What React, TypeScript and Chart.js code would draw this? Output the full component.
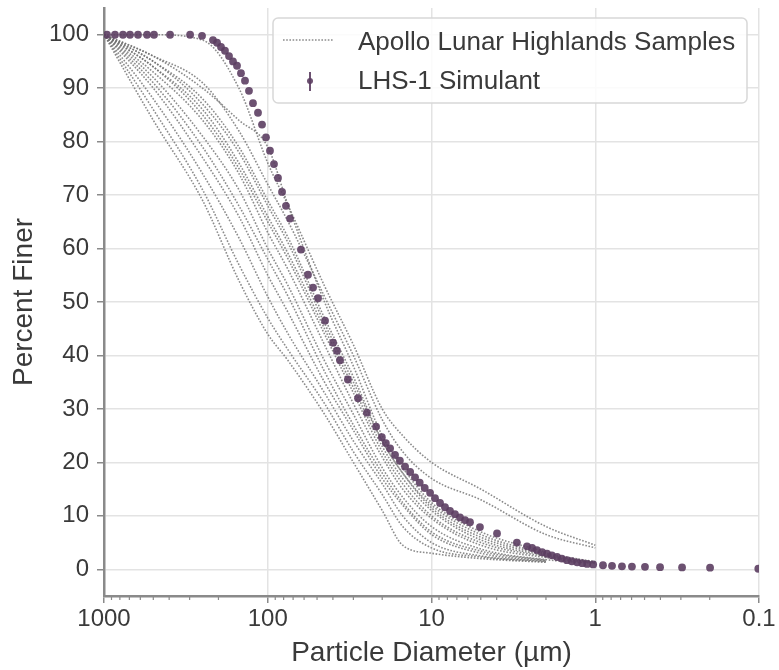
import React, { useEffect, useRef } from 'react';
import { Chart, registerables } from 'chart.js';

Chart.register(...registerables);

const FONT = '"Liberation Sans", Arial, Helvetica, sans-serif';

// Axis ticks
const X_TICKS = [1000, 100, 10, 1, 0.1];
const Y_TICKS = [0, 10, 20, 30, 40, 50, 60, 70, 80, 90, 100];
const X_MINOR_DECADES = [0.1, 1, 10, 100];

// Apollo samples: percent finer at shared particle diameters (µm)
const APOLLO_DIAM = [1000, 500, 250, 150, 100, 75, 45, 30, 20, 15, 10, 5, 2, 1];
const APOLLO_1 = [100, 84, 69, 54, 44, 39, 29, 20, 11, 4.5, 3, 2, 1.3, null];
const APOLLO_2 = [100, 86, 71, 57, 47, 41, 31, 22, 14, 8, 4, 2.3, 1.4, null];
const APOLLO_3 = [100, 90, 77, 66, 55, 48, 35, 26, 17, 12, 6.5, 3, 1.6, null];
const APOLLO_4 = [100, 92, 81, 71, 60, 53, 39, 29, 19, 13.5, 8, 3.8, 1.8, 1.1];
const APOLLO_5 = [100, 93, 84, 74, 63, 56, 42, 31, 21, 15, 9.5, 4.5, 2.2, 1.2];
const APOLLO_6 = [100, 94, 86, 76, 66, 59, 45, 34, 23, 17, 11, 5.5, 2.6, 1.3];
const APOLLO_7 = [100, 95, 88, 79, 69, 62, 47, 36, 24, 18, 12, 6.5, 3, 1.4];
const APOLLO_8 = [100, 96, 90, 84, 79, 68, 50, 38, 25, 19, 12.5, 7, 3.2, null];
const APOLLO_9 = [100, 100, 99, 90, 76, 68, 53, 42, 30, 25, 20, 15, 8, 4.5];
const APOLLO_10 = [100, 96, 91, 82, 72, 65, 51, 40, 28, 22, 17, 13, 6.5, 4];
const APOLLO_11 = [100, 91, 79, 68, 58, 51, 37, 27, 18, 12.5, 7, 3.4, 1.7, null];
const APOLLO_12 = [100, 94, 85, 75, 65, 58, 44, 33, 22, 16, 10, 5, 2.4, 1.2];
const APOLLO_13 = [100, 95, 87, 78, 68, 61, 46, 35, 24, 18, 11.5, 6, 2.8, 1.3];
const APOLLO_14 = [100, 88, 74, 62, 51, 44, 33, 24, 16, 10, 5, 2.5, 1.5, null];

const APOLLO_SERIES = [
  APOLLO_1, APOLLO_2, APOLLO_3, APOLLO_4, APOLLO_5, APOLLO_6, APOLLO_7,
  APOLLO_8, APOLLO_9, APOLLO_10, APOLLO_11, APOLLO_12, APOLLO_13, APOLLO_14,
];

// LHS-1 simulant
const LHS1_DIAM = [
  959, 857, 766, 694, 620, 546, 495, 395, 298, 252,
  216, 204, 193, 182.5, 172.4, 163, 154.1, 145.7, 137.7, 130.2, 123.1,
  114.7, 108.4, 102.5, 96.9, 91.6, 86.6, 81.8, 77.4, 73.1,
  62.7, 56.8, 52.9, 49.3, 44.7, 39.9, 37.8, 36.2, 32.4, 28.1, 24.8, 21.8, 20.1,
  19.0, 17.9, 16.7, 15.6, 14.5, 13.5, 12.6, 11.8, 11.0, 10.2, 9.52, 8.87, 8.27,
  7.71, 7.19, 6.70, 6.24, 5.82,
  5.06, 3.98, 3.01, 2.61,
  2.43, 2.27, 2.11, 1.97, 1.84, 1.71, 1.60, 1.49, 1.39, 1.29, 1.20, 1.12, 1.03,
  0.897, 0.790, 0.687, 0.597, 0.497, 0.402, 0.295, 0.199, 0.101,
];
const LHS1_PCT = [
  100, 100, 100, 100, 100, 100, 100, 100, 100, 99.8,
  99, 98.5, 97.7, 97, 96, 95, 94.2, 92.8, 91.4, 89.5, 87.2,
  85.4, 83.2, 80.8, 78.3, 75.8, 73.2, 70.6, 68, 65.6,
  59.8, 55.1, 52.7, 50.7, 46.5, 42.4, 40.9, 39.1, 35.5, 32.0, 29.3, 26.7, 24.7,
  23.6, 22.6, 21.4, 20.3, 19.2, 18.2, 17.2, 16.2, 15.2, 14.3, 13.3, 12.4, 11.6,
  10.9, 10.3, 9.7, 9.2, 8.8,
  7.9, 6.7, 5.0, 4.3,
  4.0, 3.6, 3.2, 2.9, 2.6, 2.3, 2.0, 1.7, 1.5, 1.3, 1.15, 1.0, 0.9,
  0.75, 0.65, 0.55, 0.5, 0.45, 0.4, 0.35, 0.3, 0.1,
];

const GREY = 'rgba(110,110,110,0.8)';
const PURPLE = 'rgba(92,62,98,0.9)';
const AXIS = '#8a8a8a';
const GRID = '#e3e3e3';
const TEXT = '#3a3a3a';

const extrasPlugin = {
  id: 'extras',
  afterDraw(chart: any) {
    const ctx = chart.ctx;
    const xs = chart.scales.x;
    const area = chart.chartArea;
    // minor ticks on x axis
    ctx.save();
    ctx.strokeStyle = AXIS;
    ctx.lineWidth = 1.2;
    for (const d of X_MINOR_DECADES) {
      for (let k = 2; k <= 9; k++) {
        const px = xs.getPixelForValue(d * k);
        ctx.beginPath();
        ctx.moveTo(px, area.bottom);
        ctx.lineTo(px, area.bottom + 4);
        ctx.stroke();
      }
    }
    ctx.restore();

    // legend
    const lx = 273, ly = 18, lw = 474, lh = 85;
    ctx.save();
    ctx.beginPath();
    ctx.roundRect(lx, ly, lw, lh, 5);
    ctx.fillStyle = 'rgba(255,255,255,0.85)';
    ctx.fill();
    ctx.strokeStyle = '#d8d8d8';
    ctx.lineWidth = 1.5;
    ctx.stroke();

    // entry 1: dotted grey line
    ctx.beginPath();
    ctx.setLineDash([1.6, 1.6]);
    ctx.strokeStyle = GREY;
    ctx.lineWidth = 1.6;
    ctx.moveTo(283, 40);
    ctx.lineTo(333, 40);
    ctx.stroke();
    ctx.setLineDash([]);

    // entry 2: error bar marker
    ctx.beginPath();
    ctx.strokeStyle = PURPLE;
    ctx.lineWidth = 2;
    ctx.moveTo(310, 72);
    ctx.lineTo(310, 91);
    ctx.stroke();
    ctx.beginPath();
    ctx.fillStyle = PURPLE;
    ctx.arc(310, 81, 3, 0, Math.PI * 2);
    ctx.fill();

    ctx.fillStyle = TEXT;
    ctx.font = `26px ${FONT}`;
    ctx.textAlign = 'left';
    ctx.textBaseline = 'alphabetic';
    ctx.fillText('Apollo Lunar Highlands Samples', 358, 50);
    ctx.fillText('LHS-1 Simulant', 358, 89);
    ctx.restore();
  },
};

export default function App() {
  const ref = useRef<HTMLCanvasElement | null>(null);

  useEffect(() => {
    if (!ref.current) return;
    const greyDatasets = APOLLO_SERIES.map((series, idx) => ({
      label: idx === 0 ? 'Apollo Lunar Highlands Samples' : `Apollo ${idx + 1}`,
      data: APOLLO_DIAM.map((d, i) => ({ x: d, y: series[i] })).filter((p) => p.y !== null),
      showLine: true,
      borderColor: GREY,
      borderWidth: 1.6,
      borderDash: [1.6, 1.6],
      pointRadius: 0,
      cubicInterpolationMode: 'monotone' as const,
      fill: false,
    }));
    const chart = new Chart(ref.current, {
      type: 'scatter',
      data: {
        datasets: [
          {
            label: 'LHS-1 Simulant',
            data: LHS1_DIAM.map((d, i) => ({ x: d, y: LHS1_PCT[i] })),
            showLine: false,
            pointRadius: 3.9,
            pointBackgroundColor: PURPLE,
            pointBorderWidth: 0,
          } as any,
          ...greyDatasets,
        ],
      },
      options: {
        responsive: false,
        animation: false,
        devicePixelRatio: 1,
        layout: { padding: { top: 8, right: 20, left: 0, bottom: 0 } },
        plugins: {
          legend: { display: false },
          tooltip: { enabled: false },
        },
        scales: {
          x: {
            type: 'logarithmic',
            reverse: true,
            min: 0.1,
            max: 1000,
            afterBuildTicks: (s: any) => {
              s.ticks = X_TICKS.map((v) => ({ value: v }));
            },
            afterFit: (s: any) => {
              s.height = 74;
              s.paddingLeft = 0;
              s.paddingRight = 0;
            },
            ticks: {
              callback: (v: any) => String(v),
              font: { family: FONT, size: 24 },
              color: TEXT,
              padding: 2,
              maxRotation: 0,
              autoSkip: false,
            },
            grid: {
              color: GRID,
              lineWidth: 1.5,
              tickLength: 7,
              tickColor: AXIS,
              tickWidth: 1.5,
            },
            border: { color: AXIS, width: 2.5 },
            title: {
              display: true,
              text: 'Particle Diameter (µm)',
              font: { family: FONT, size: 28 },
              color: TEXT,
              padding: { top: 4, bottom: 0 },
            },
          },
          y: {
            type: 'linear',
            min: -5,
            max: 105,
            afterBuildTicks: (s: any) => {
              s.ticks = Y_TICKS.map((v) => ({ value: v }));
            },
            afterFit: (s: any) => {
              s.width = 104;
              s.paddingTop = 0;
              s.paddingBottom = 0;
            },
            ticks: {
              font: { family: FONT, size: 24 },
              color: TEXT,
              padding: 8,
            },
            grid: {
              color: GRID,
              lineWidth: 1.5,
              tickLength: 7,
              tickColor: AXIS,
              tickWidth: 1.5,
            },
            border: { color: AXIS, width: 2.5 },
            title: {
              display: true,
              text: 'Percent Finer',
              font: { family: FONT, size: 28 },
              color: TEXT,
              padding: { top: 7, bottom: 0 },
            },
          },
        },
      },
      plugins: [extrasPlugin],
    });
    return () => chart.destroy();
  }, []);

  return (
    <div style={{ position: 'fixed', left: 0, top: 0, width: 779, height: 670, background: '#fff' }}>
      <canvas ref={ref} width={779} height={670} style={{ display: 'block' }} />
    </div>
  );
}
